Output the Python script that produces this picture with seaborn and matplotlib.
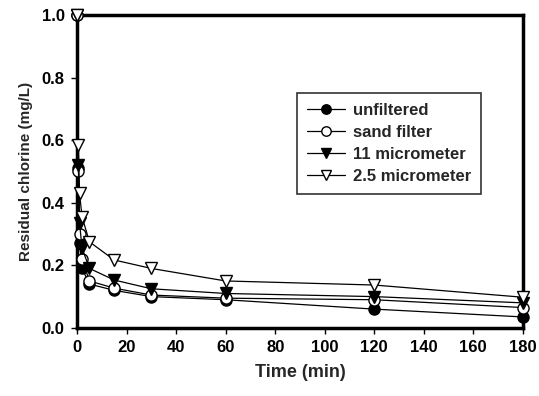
import matplotlib
matplotlib.use("Agg")
import matplotlib.pyplot as plt
import seaborn as sns
import pandas as pd

sns.set_theme(style="white")
plt.rcParams['font.family'] = ['Liberation Sans', 'DejaVu Sans']

times = [0, 0.5, 1, 2, 5, 15, 30, 60, 120, 180]
unfiltered = [1.0, 0.51, 0.27, 0.19, 0.14, 0.12, 0.10, 0.09, 0.06, 0.035]
sand_filter = [1.0, 0.50, 0.30, 0.22, 0.15, 0.127, 0.105, 0.095, 0.09, 0.065]
micro11 = [1.0, 0.52, 0.335, 0.255, 0.19, 0.153, 0.125, 0.11, 0.10, 0.08]
micro25 = [1.0, 0.585, 0.43, 0.355, 0.275, 0.217, 0.19, 0.15, 0.137, 0.098]

series_names = ["unfiltered", "sand filter", "11 micrometer", "2.5 micrometer"]
series_vals = [unfiltered, sand_filter, micro11, micro25]
markers = ["o", "o", "v", "v"]
faces = ["black", "white", "black", "white"]

rows = []
for name, vals in zip(series_names, series_vals):
    for t, v in zip(times, vals):
        rows.append({"Time": t, "Chlorine": v, "Series": name})
df = pd.DataFrame(rows)

fig = plt.figure(figsize=(5.39, 3.96), dpi=100)
ax = fig.add_axes([0.143, 0.172, 0.827, 0.790])

for i, (name, mk, fc) in enumerate(zip(series_names, markers, faces)):
    sub = df[df["Series"] == name]
    sns.lineplot(data=sub, x="Time", y="Chlorine", ax=ax, color="black",
                 linewidth=0.9, marker=mk, markersize=8 if mk == "o" else 9,
                 markerfacecolor=fc, markeredgecolor="black", markeredgewidth=1.0,
                 label=name, clip_on=False, zorder=3 + i)

ax.set_xlim(0, 180)
ax.set_ylim(0, 1.0)
ax.set_xticks(range(0, 181, 20))
ax.set_yticks([0.0, 0.2, 0.4, 0.6, 0.8, 1.0])
ax.set_yticklabels(["0.0", "0.2", "0.4", "0.6", "0.8", "1.0"])
ax.set_xlabel("Time (min)", fontsize=13, fontweight="bold", labelpad=6)
ax.set_ylabel("Residual chlorine (mg/L)", fontsize=11, fontweight="bold", labelpad=6)
for lab in ax.get_xticklabels() + ax.get_yticklabels():
    lab.set_fontweight("bold")
    lab.set_fontsize(12)
ax.tick_params(axis="both", direction="out", length=4, width=1, colors="black",
               bottom=True, left=True, pad=5)
for sp in ax.spines.values():
    sp.set_linewidth(2.5)
    sp.set_color("black")

leg = ax.legend(loc="upper left", bbox_to_anchor=(0.493, 0.751), frameon=True,
                fancybox=False, edgecolor="black",
                prop={"weight": "bold", "size": 12}, handlelength=2.3,
                borderpad=0.6, labelspacing=0.42, handletextpad=0.45,
                borderaxespad=0, markerscale=0.85)
leg.get_frame().set_linewidth(1.2)

fig.savefig("out.png", dpi=100)
